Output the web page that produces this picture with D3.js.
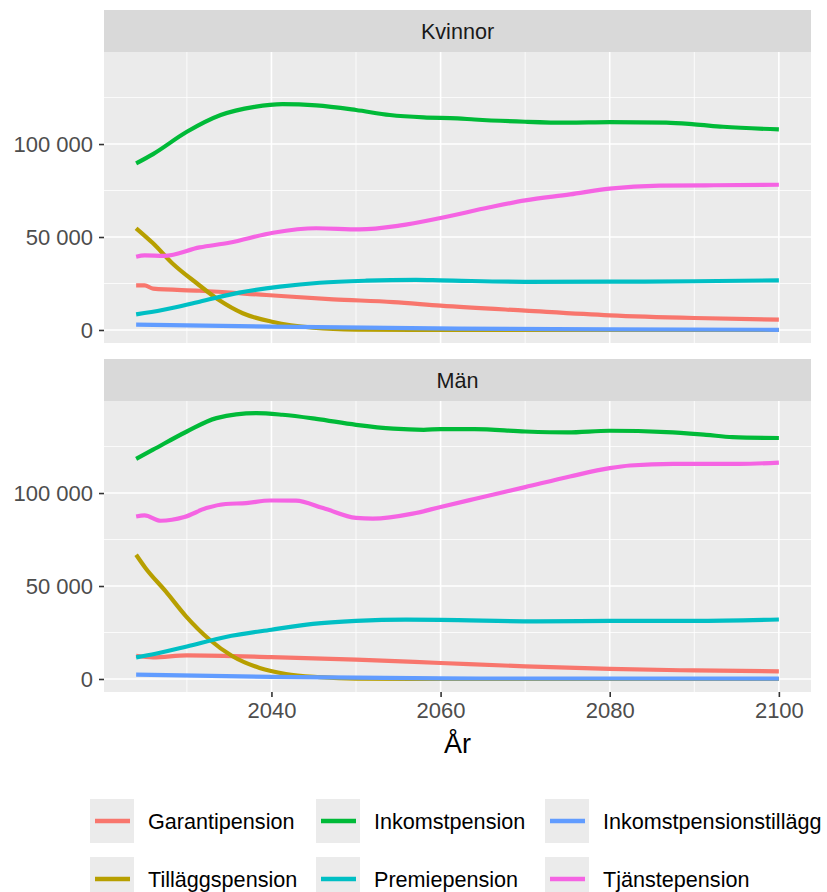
<!DOCTYPE html>
<html>
<head>
<meta charset="utf-8">
<script src="https://cdn.jsdelivr.net/npm/d3@7"></script>
<style>
    body { margin: 0; background: #fff; }
    text { font-family: "Liberation Sans", Arial, sans-serif; }
</style>
</head>
<body>
<script>
// series in the order ggplot draws them (legend is filled column by column)
const seriesNames = ["Garantipension", "Tilläggspension", "Inkomstpension", "Premiepension", "Inkomstpensionstillägg", "Tjänstepension"];
const seriesColors = ["#F8766D", "#B79F00", "#00BA38", "#00BFC4", "#619CFF", "#F564E3"];
const panelNames = ["Kvinnor", "Män"];
const xTicks = [2040, 2060, 2080, 2100];
const xMinorTicks = [2030, 2050, 2070, 2090];
const yTicks = [0, 50000, 100000];
const yMinorTicks = [25000, 75000, 125000];

// [år, kronor]
const kvGarantipension = [[2024, 24000], [2025, 24000], [2026, 22200], [2031.5, 21100], [2039.4, 18800], [2047.3, 16500], [2054.4, 15000], [2060, 13100], [2070, 10400], [2080, 7900], [2090, 6450], [2100, 5550]];
const kvTillaggspension = [[2024, 54700], [2026, 46600], [2028.3, 35800], [2031.1, 25400], [2033.8, 16100], [2036.6, 9000], [2040.2, 4300], [2044.9, 1250], [2050, 200], [2060, 0], [2100, 0]];
const kvInkomstpension = [[2024, 89600], [2026, 94600], [2030, 106600], [2034, 115600], [2038, 120000], [2041.3, 121500], [2045.3, 120800], [2050, 118300], [2054, 115600], [2058, 114300], [2062, 113800], [2064, 113200], [2070, 112000], [2075, 111500], [2080, 111800], [2086.7, 111500], [2090, 110600], [2093.4, 109300], [2100, 107900]];
const kvPremiepension = [[2024, 8400], [2027.1, 10750], [2031.5, 15200], [2036.2, 20100], [2041, 23300], [2045.7, 25400], [2051.2, 26500], [2057.1, 26900], [2060, 26700], [2070, 25900], [2080, 26000], [2090, 26200], [2100, 26700]];
const kvInkomstpensionstillagg = [[2024, 2850], [2040, 1800], [2062, 700], [2080, 300], [2100, 100]];
const kvTjanstepension = [[2024, 39400], [2025, 40100], [2027.3, 39900], [2031.5, 44400], [2035, 46900], [2040.2, 52300], [2045.3, 54700], [2050.4, 54100], [2055.1, 56100], [2060, 60200], [2065.8, 66000], [2070, 69700], [2075.3, 72900], [2080, 76000], [2085.9, 77600], [2091.4, 77800], [2100, 78100]];

const manGarantipension = [[2024, 12500], [2026, 11600], [2030, 12700], [2040, 11800], [2050, 10400], [2060, 8600], [2070, 6800], [2080, 5400], [2090, 4600], [2100, 4100]];
const manTillaggspension = [[2024, 66800], [2025.1, 59700], [2027.5, 47100], [2029.9, 33700], [2032.7, 21100], [2035.4, 12200], [2038.6, 5900], [2041.7, 2700], [2045.7, 1000], [2050, 200], [2060, 0], [2100, 0]];
const manInkomstpension = [[2024, 118400], [2026, 123300], [2030, 133100], [2033.5, 140300], [2038.2, 143000], [2041.3, 142100], [2045.3, 139900], [2050, 136700], [2054.4, 134600], [2058, 134000], [2060, 134400], [2064, 134400], [2070, 133100], [2075, 132600], [2080, 133500], [2086.7, 132800], [2091.4, 131300], [2094.5, 130100], [2100, 129600]];
const manPremiepension = [[2024, 11600], [2026.3, 13600], [2030, 17500], [2034.6, 22600], [2040, 26500], [2044.9, 29600], [2050, 31200], [2055.9, 31900], [2060, 31800], [2071.3, 31000], [2080, 31200], [2090, 31300], [2100, 32000]];
const manInkomstpensionstillagg = [[2024, 2300], [2040, 1100], [2060, 300], [2100, 150]];
const manTjanstepension = [[2024, 87400], [2025, 88000], [2026.9, 85100], [2029.7, 87100], [2032.3, 91900], [2034.6, 94100], [2037, 94600], [2039.8, 96000], [2042.9, 95900], [2046.1, 91900], [2050, 86600], [2052, 86200], [2056.7, 88900], [2060, 92500], [2064, 96800], [2070, 103200], [2075.3, 108900], [2080, 113400], [2082.4, 114800], [2087.5, 115700], [2095.4, 115700], [2100, 116400]];

const panelSeries = [
    [kvGarantipension, kvTillaggspension, kvInkomstpension, kvPremiepension, kvInkomstpensionstillagg, kvTjanstepension],
    [manGarantipension, manTillaggspension, manInkomstpension, manPremiepension, manInkomstpensionstillagg, manTjanstepension],
];

const width = 827;
const height = 892;
const panelLeft = 104;
const panelRight = 811;
const panelTops = [52, 401];
const panelHeight = 291;
const stripHeight = 42;

const x = d3.scaleLinear().domain([2020.2, 2103.8]).range([panelLeft, panelRight]);
const y = d3.scaleLinear().domain([-7000, 149500]).range([panelHeight, 0]);
const color = d3.scaleOrdinal().domain(seriesNames).range(seriesColors);
const fmt = d => d3.format(",")(d).replace(/,/g, " ");

const valueLine =
    d3.line()
        .x(d => x(d[0]))
        .y(d => y(d[1]))
        .curve(d3.curveMonotoneX)
    ;

const svg =
    d3.select("body").append("svg")
        .attr("width", width)
        .attr("height", height)
    ;

panelNames.forEach((name, p) => {
    const top = panelTops[p];

    // strip
    svg.append("rect")
        .attr("x", panelLeft)
        .attr("y", top - stripHeight)
        .attr("width", panelRight - panelLeft)
        .attr("height", stripHeight)
        .attr("fill", "#D9D9D9");
    svg.append("text")
        .attr("x", (panelLeft + panelRight) / 2)
        .attr("y", top - stripHeight / 2)
        .attr("dy", "0.35em")
        .attr("text-anchor", "middle")
        .attr("font-size", 21.6)
        .attr("fill", "#1A1A1A")
        .text(name);

    const g = svg.append("g")
        .attr("transform", `translate(0, ${top})`);

    g.append("rect")
        .attr("x", panelLeft)
        .attr("y", 0)
        .attr("width", panelRight - panelLeft)
        .attr("height", panelHeight)
        .attr("fill", "#EBEBEB");

    // grid
    g.selectAll(".ymin").data(yMinorTicks).join("line")
        .attr("x1", panelLeft).attr("x2", panelRight)
        .attr("y1", d => y(d)).attr("y2", d => y(d))
        .attr("stroke", "#fff").attr("stroke-width", 0.8);
    g.selectAll(".xmin").data(xMinorTicks).join("line")
        .attr("x1", d => x(d)).attr("x2", d => x(d))
        .attr("y1", 0).attr("y2", panelHeight)
        .attr("stroke", "#fff").attr("stroke-width", 0.8);
    g.selectAll(".ymaj").data(yTicks).join("line")
        .attr("x1", panelLeft).attr("x2", panelRight)
        .attr("y1", d => y(d)).attr("y2", d => y(d))
        .attr("stroke", "#fff").attr("stroke-width", 1.6);
    g.selectAll(".xmaj").data(xTicks).join("line")
        .attr("x1", d => x(d)).attr("x2", d => x(d))
        .attr("y1", 0).attr("y2", panelHeight)
        .attr("stroke", "#fff").attr("stroke-width", 1.6);

    // lines
    panelSeries[p].forEach((series, i) => {
        g.append("path")
            .datum(series)
            .attr("fill", "none")
            .attr("stroke", color(seriesNames[i]))
            .attr("stroke-width", 4.2)
            .attr("d", valueLine);
    });

    // y axis
    const yAxis = g.append("g")
        .attr("transform", `translate(${panelLeft}, 0)`)
        .call(d3.axisLeft(y).tickValues(yTicks).tickFormat(fmt).tickSize(5).tickPadding(6));
    yAxis.select(".domain").remove();
    yAxis.selectAll("line").attr("stroke", "#333").attr("stroke-width", 1.6);
    yAxis.selectAll("text")
        .attr("font-size", 22)
        .attr("font-family", "Liberation Sans, Arial, sans-serif")
        .attr("fill", "#4D4D4D");
});

// x axis under the last panel
const xAxis = svg.append("g")
    .attr("transform", `translate(0, ${panelTops[1] + panelHeight})`)
    .call(d3.axisBottom(x).tickValues(xTicks).tickFormat(d3.format("d")).tickSize(5).tickPadding(5));
xAxis.select(".domain").remove();
xAxis.selectAll("line").attr("stroke", "#333").attr("stroke-width", 1.6);
xAxis.selectAll("text")
    .attr("font-size", 22)
    .attr("font-family", "Liberation Sans, Arial, sans-serif")
    .attr("fill", "#4D4D4D");

svg.append("text")
    .attr("x", (panelLeft + panelRight) / 2)
    .attr("y", 753)
    .attr("text-anchor", "middle")
    .attr("font-size", 27)
    .attr("fill", "#000")
    .text("År");

// legend, two rows filled by column
const legendCols = [90, 316, 545];
const legendRows = [799, 857];
const keySize = 44;
const legend = svg.append("g");
seriesNames.forEach((name, i) => {
    const lx = legendCols[Math.floor(i / 2)];
    const ly = legendRows[i % 2];
    legend.append("rect")
        .attr("x", lx).attr("y", ly)
        .attr("width", keySize).attr("height", keySize)
        .attr("fill", "#EBEBEB");
    legend.append("line")
        .attr("x1", lx + 5).attr("x2", lx + 40)
        .attr("y1", ly + keySize / 2).attr("y2", ly + keySize / 2)
        .attr("stroke", color(name))
        .attr("stroke-width", 4.5);
    legend.append("text")
        .attr("x", lx + 58)
        .attr("y", ly + keySize / 2)
        .attr("dy", "0.35em")
        .attr("font-size", 21.6)
        .attr("fill", "#000")
        .text(name);
});
</script>
</body>
</html>
